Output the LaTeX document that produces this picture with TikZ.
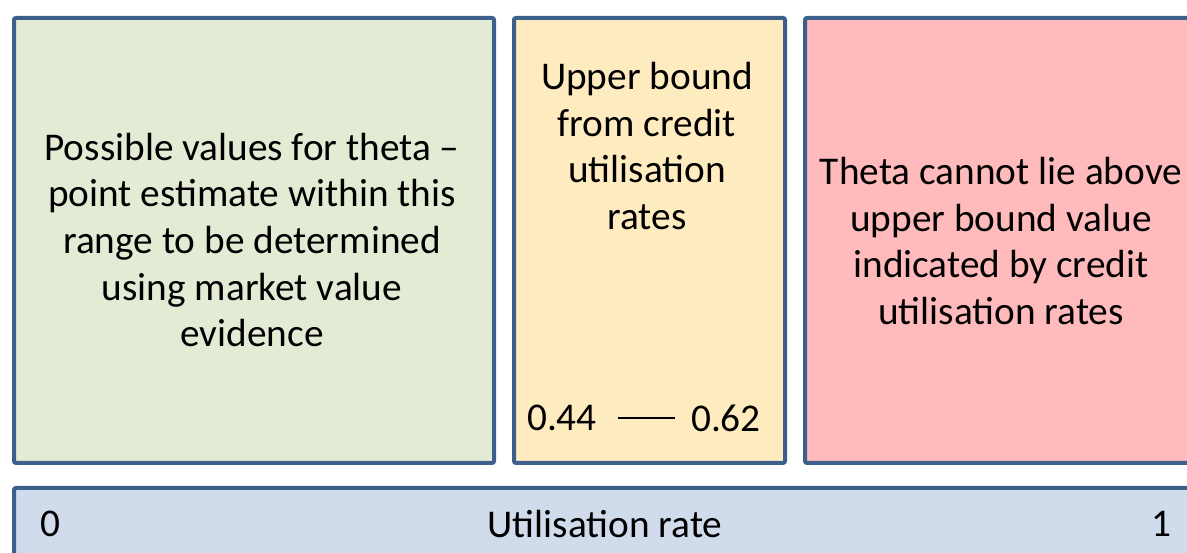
\documentclass[tikz,border=0pt]{standalone}
\usepackage{fontspec}
\setmainfont{Carlito}
\usetikzlibrary{positioning, calc}
\definecolor{panelborder}{rgb}{0.235, 0.373, 0.549}
\definecolor{panelgreen}{rgb}{0.890, 0.922, 0.835}
\definecolor{panelyellow}{rgb}{1.000, 0.922, 0.753}
\definecolor{panelred}{rgb}{1.000, 0.733, 0.733}
\definecolor{panelblue}{rgb}{0.816, 0.863, 0.925}
\tikzset{
    panel/.style = {draw=panelborder, line width=4pt, rounded corners=2pt, anchor=north west, inner sep=0pt},
    paneltext/.style = {align=center, font=\fontsize{39.3}{46.7}\selectfont, inner sep=0pt}
}
\begin{document}
\begin{tikzpicture}[x=1pt, y=1pt]
    \useasboundingbox (0,0) rectangle (1187,553);
    \clip (0,0) rectangle (1187,553);
    % panels
    \node[panel, fill=panelgreen, minimum width=480, minimum height=445] (range) at (12,537) {};
    \node[panel, fill=panelyellow, minimum width=271, minimum height=445] (bound) at (512,537) {};
    \node[panel, fill=panelred, minimum width=400, minimum height=445] (above) at (803,537) {};
    \node[panel, fill=panelblue, minimum width=1190, minimum height=90] (axis) at (12,67) {};
    % texts
    \begin{scope}[every node/.style = {paneltext}]
        \node (rangetext) at (252,313) {Possible values for theta --\\point estimate within this\\range to be determined\\using market value\\evidence};
        \node (boundtext) at (647,407) {Upper bound\\from credit\\utilisation\\rates};
        \node (abovetext) at (1001,312) {Theta cannot lie above\\upper bound value\\indicated by credit\\utilisation rates};
        \node (lo) at (562,135) {0.44};
        \node (hi) at (726,135) {0.62};
        \node (zero) at (50,29) {0};
        \node (axistext) at (605,29) {Utilisation rate};
        \node (one) at (1161,29) {1};
    \end{scope}
    \draw[line width=2.5pt] ($(lo.east)+(21,0)$) -- ($(hi.west)+(-16,0)$);
\end{tikzpicture}
\end{document}
